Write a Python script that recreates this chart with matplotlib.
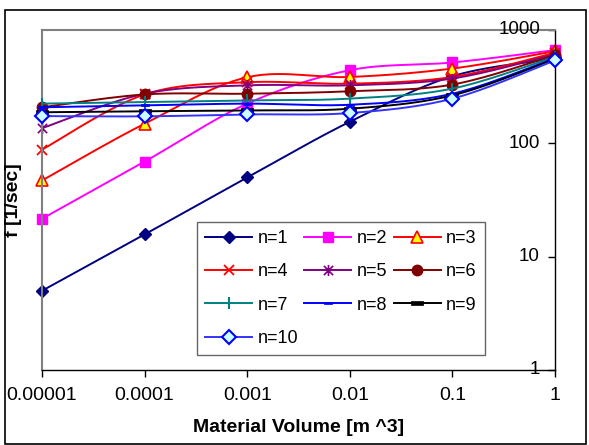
import numpy as np
import matplotlib
matplotlib.use("Agg")
import matplotlib.pyplot as plt
from matplotlib.path import Path
from matplotlib.lines import Line2D
from matplotlib.patches import Rectangle
import matplotlib.transforms as mtransforms
from matplotlib.ticker import NullLocator, FixedLocator

plt.rcParams['font.family'] = ['Liberation Sans', 'DejaVu Sans']

# ---------------- data ----------------
volumes = [1e-5, 1e-4, 1e-3, 1e-2, 1e-1, 1.0]
x_tick_labels = ["0.00001", "0.0001", "0.001", "0.01", "0.1", "1"]
y_ticks = [1, 10, 100, 1000]
y_tick_labels = ["1", "10", "100", "1000"]

series_names = ["n=1", "n=2", "n=3", "n=4", "n=5", "n=6", "n=7", "n=8", "n=9", "n=10"]
f_n1 = [5.0, 15.7, 50, 155, 391, 560]
f_n2 = [21.6, 69, 224, 442, 517, 665]
f_n3 = [47, 149, 383, 385, 457, 650]
f_n4 = [88, 270, 346, 336, 385, 630]
f_n5 = [136, 274, 325, 325, 373, 610]
f_n6 = [208, 270, 274, 288, 330, 600]
f_n7 = [224, 231, 239, 248, 304, 580]
f_n8 = [208, 216, 224, 219, 274, 565]
f_n9 = [188, 192, 195, 202, 265, 555]
f_n10 = [174, 173, 180, 185, 248, 540]
all_series = [f_n1, f_n2, f_n3, f_n4, f_n5, f_n6, f_n7, f_n8, f_n9, f_n10]

# ---------------- styles ----------------
star = Path([(-1, -1), (1, 1), (-1, 1), (1, -1), (0, -1.2), (0, 1.2)],
            [Path.MOVETO, Path.LINETO, Path.MOVETO, Path.LINETO, Path.MOVETO, Path.LINETO])
dash = Path([(-1, -0.3), (1, -0.3), (1, 0.3), (-1, 0.3), (-1, -0.3)],
            [Path.MOVETO, Path.LINETO, Path.LINETO, Path.LINETO, Path.CLOSEPOLY])

styles = [
    dict(color='#000080', marker='D', mfc='#000080', mec='#000080', ms=6.5, mew=1),
    dict(color='#FF00FF', marker='s', mfc='#FF00FF', mec='#FF00FF', ms=6.5, mew=1),
    dict(color='#FF0000', marker='^', mfc='#FFFF00', mec='#FF0000', ms=8, mew=1.2),
    dict(color='#FF0000', marker='x', mfc='#FF0000', mec='#FF0000', ms=7.5, mew=1.3),
    dict(color='#800080', marker=star, mfc='#800080', mec='#800080', ms=8, mew=1.2),
    dict(color='#800000', marker='o', mfc='#800000', mec='#800000', ms=7.5, mew=1),
    dict(color='#008080', marker='|', mfc='#008080', mec='#008080', ms=8, mew=1.5),
    dict(color='#0000FF', marker=dash, mfc='#0000FF', mec='#0000FF', ms=6, mew=0.5),
    dict(color='#000000', marker=dash, mfc='#000000', mec='#000000', ms=9, mew=0.5),
    dict(color='#3333FF', marker='D', mfc='#CCFFFF', mec='#0000FF', ms=7, mew=1.5),
]


def excel_smooth(xs, ys, n=30):
    """Catmull-Rom style bezier (Excel smoothed line) in log-log space."""
    lx = np.log10(np.asarray(xs, float))
    ly = np.log10(np.asarray(ys, float))
    P = np.column_stack([lx, ly])
    out = [P[0]]
    t = np.linspace(0, 1, n)[1:]
    for i in range(len(P) - 1):
        p0 = P[i - 1] if i > 0 else P[i]
        p1 = P[i]
        p2 = P[i + 1]
        p3 = P[i + 2] if i + 2 < len(P) else P[i + 1]
        c1 = p1 + (p2 - p0) / 6.0
        c2 = p2 - (p3 - p1) / 6.0
        for tt in t:
            pt = ((1 - tt) ** 3) * p1 + 3 * ((1 - tt) ** 2) * tt * c1 + 3 * (1 - tt) * tt ** 2 * c2 + tt ** 3 * p2
            out.append(pt)
    out = np.array(out)
    return 10 ** out[:, 0], 10 ** out[:, 1]


W, H = 589, 445
fig = plt.figure(figsize=(W / 100, H / 100), dpi=100)
fig.patch.set_facecolor('white')

L, R, T, B = 42, 555, 30, 370
ax = fig.add_axes([L / W, 1 - B / H, (R - L) / W, (B - T) / H])
ax.set_xscale('log')
ax.set_yscale('log')
ax.set_xlim(1e-5, 1)
ax.set_ylim(1, 1000)

handles = []
for i, (name, vals, st) in enumerate(zip(series_names, all_series, styles)):
    sx, sy = excel_smooth(volumes, vals)
    ax.plot(sx, sy, color=st['color'], lw=1.4, zorder=2 + i * 0.1, clip_on=False)
    ax.plot(volumes, vals, linestyle='none', marker=st['marker'], ms=st['ms'],
            mfc=st['mfc'], mec=st['mec'], mew=st['mew'], zorder=2.05 + i * 0.1, clip_on=False)
    handles.append(Line2D([0], [0], color=st['color'], lw=1.4, marker=st['marker'], ms=st['ms'],
                          mfc=st['mfc'], mec=st['mec'], mew=st['mew']))

# spines
for s in ['top', 'left']:
    ax.spines[s].set_color('#808080')
    ax.spines[s].set_linewidth(1.5)
for s in ['bottom', 'right']:
    ax.spines[s].set_color('black')
    ax.spines[s].set_linewidth(1.0)

ax.xaxis.set_major_locator(FixedLocator(volumes))
ax.xaxis.set_minor_locator(NullLocator())
ax.set_xticklabels(x_tick_labels)
ax.tick_params(axis='x', direction='out', length=5, width=1, labelsize=14, pad=7, color='black')

ax.yaxis.set_major_locator(FixedLocator(y_ticks))
ax.yaxis.set_minor_locator(NullLocator())
ax.tick_params(axis='y', which='both', left=False, right=True, labelleft=False, labelright=False,
               direction='in', length=5, width=1, color='black')

offset = mtransforms.ScaledTranslation(-15 / 100, 0, fig.dpi_scale_trans)
trans = mtransforms.blended_transform_factory(ax.transAxes, ax.transData) + offset
for v, lab in zip(y_ticks, y_tick_labels):
    ax.text(1, v, lab, transform=trans, ha='right', va='center', fontsize=13.5)

fig.text((L + R) / 2 / W, 1 - 428 / H, "Material Volume [m ^3]", ha='center', va='center',
         fontsize=14, fontweight='bold')
fig.text(14 / W, 1 - 200 / H, "f [1/sec]", ha='center', va='center', rotation=90,
         fontsize=14, fontweight='bold')

# legend filled row by row (matplotlib fills columns)
order = [0, 3, 6, 9, 1, 4, 7, 2, 5, 8]
leg = ax.legend([handles[k] for k in order], [series_names[k] for k in order], ncol=3,
                loc='upper left',
                bbox_to_anchor=((197 - L) / (R - L), 1 - (222 - T) / (B - T)),
                bbox_transform=ax.transAxes, fontsize=13, frameon=True, fancybox=False,
                edgecolor='#404040', handlelength=2.6, handletextpad=0.3, columnspacing=0.35,
                labelspacing=0.9, borderaxespad=0, borderpad=0.45)
leg.get_frame().set_linewidth(1.0)
leg.set_zorder(10)

# outer chart border
fig.add_artist(Rectangle((5 / W, 1 - 444 / H), (586 - 5) / W, (444 - 10) / H,
                         transform=fig.transFigure, fill=False, edgecolor='black', lw=1.2))

fig.savefig('out.png', dpi=100)
